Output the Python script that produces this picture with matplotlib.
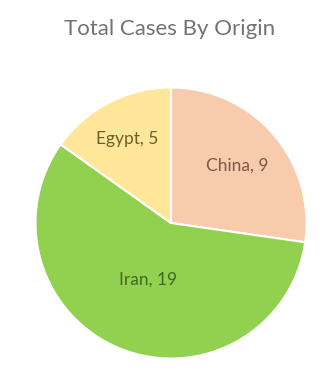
import numpy as np
import matplotlib
matplotlib.use("Agg")
import matplotlib.pyplot as plt

# Data
origins = ["China", "Iran", "Egypt"]
cases = [9, 19, 5]
colors = ["#F8CBAD", "#92D050", "#FFE699"]
text_colors = ["#7A5A48", "#3F6A22", "#6E5E2A"]
label_dist = [0.65, 0.45, 0.70]

plt.rcParams["font.family"] = ["Lato", "DejaVu Sans"]

fig = plt.figure(figsize=(3.33, 3.82), dpi=100)
ax = fig.add_axes([35.5 / 333, 23.5 / 382, 271 / 333, 271 / 382])

wedges, _ = ax.pie(cases, colors=colors, startangle=90, counterclock=False,
                   wedgeprops=dict(edgecolor="white", linewidth=1.5))

for w, name, val, tc, d in zip(wedges, origins, cases, text_colors, label_dist):
    ang = np.deg2rad((w.theta1 + w.theta2) / 2)
    ax.text(d * np.cos(ang), d * np.sin(ang), f"{name}, {val}",
            ha="center", va="center", fontsize=12.5, color=tc)

ax.set_xlim(-1, 1)
ax.set_ylim(-1, 1)
ax.set_aspect("equal")

fig.text(170 / 333, 1 - 29 / 382, "Total Cases By Origin", ha="center", va="center",
         fontsize=16, color="#737373")

fig.savefig("out.png", dpi=100)
